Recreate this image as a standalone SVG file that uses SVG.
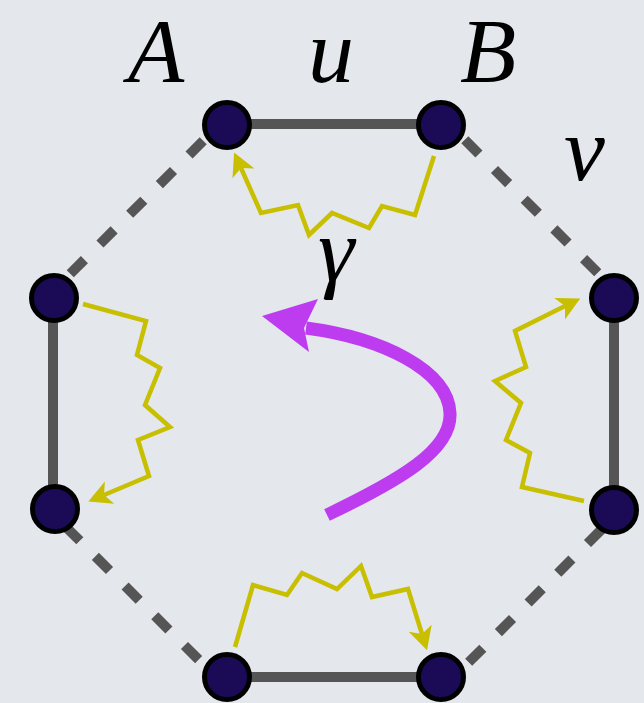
<svg xmlns="http://www.w3.org/2000/svg" width="644" height="703" viewBox="0 0 644 703">
<style>
.solid{stroke:#555555;stroke-width:10;fill:none}
.dash{stroke:#555555;stroke-width:10;fill:none;stroke-dasharray:20 22}
.node{fill:#1b0b57;stroke:#000000;stroke-width:5}
.wig{stroke:#c8bf00;stroke-width:4.5;fill:none;stroke-linejoin:miter;marker-end:url(#ya)}
.lbl{font-family:"Liberation Serif","Times New Roman",serif;font-style:italic;font-size:92px;fill:#000000}
</style>
<defs>
<marker id="ya" markerUnits="userSpaceOnUse" viewBox="-2 -14 28 28" markerWidth="28" markerHeight="28" refX="6" refY="0" orient="auto" overflow="visible">
<path d="M0,-12 L23,0 L0,12 L6,0 Z" fill="#c8bf00"/>
</marker>
</defs>
<rect x="0" y="0" width="644" height="703" fill="#e4e7ec"/>
<g id="connectors">
<line class="solid" x1="227" y1="124" x2="441" y2="124"/>
<line class="solid" x1="53" y1="298" x2="53" y2="509"/>
<line class="solid" x1="614" y1="298" x2="614" y2="510"/>
<line class="solid" x1="227" y1="677" x2="441" y2="677"/>
<line class="dash" x1="223" y1="121" x2="50" y2="294" stroke-dashoffset="14"/>
<line class="dash" x1="445" y1="120" x2="618" y2="293" stroke-dashoffset="14"/>
<line class="dash" x1="48" y1="509" x2="218" y2="679" stroke-dashoffset="17"/>
<line class="dash" x1="620" y1="511" x2="450" y2="681" stroke-dashoffset="16"/>
<path class="wig" d="M434,156 L415,215 L382,206 L369,228 L332,213 L309,235 L298,205 L261,213 L241,168"/>
<path class="wig" d="M83,304 L146,321 L137,355 L160,368 L145,405 L170,427 L138,440 L149,476 L104,495"/>
<path class="wig" d="M584,501 L522,487 L530,453 L506,440 L521,403 L495,381 L526,367 L515,331 L565,306"/>
<path class="wig" d="M235,647 L253,585 L287,595 L302,573 L337,589 L361,566 L372,597 L408,589 L422,634"/>
<path d="M327,515 C400,480 452,450 450,413 C448,370 382,338 306,328" stroke="#be3cf0" stroke-width="13" fill="none"/>
<path d="M262,316 L318,299 L304,328 L309,352 Z" fill="#be3cf0"/>
</g>
<g id="n1"><circle class="node" cx="227" cy="125" r="22.5"/></g>
<g id="n2"><circle class="node" cx="441" cy="125" r="22.5"/></g>
<g id="n3"><circle class="node" cx="54" cy="298" r="22.5"/></g>
<g id="n4"><circle class="node" cx="614" cy="298" r="22.5"/></g>
<g id="n5"><circle class="node" cx="55" cy="509" r="22.5"/></g>
<g id="n6"><circle class="node" cx="614" cy="510" r="22.5"/></g>
<g id="n7"><circle class="node" cx="227" cy="677" r="22.5"/></g>
<g id="n8"><circle class="node" cx="441" cy="677" r="22.5"/></g>
<g id="labels">
<text class="lbl" x="128" y="82">A</text>
<text class="lbl" x="308" y="82">u</text>
<text class="lbl" x="460" y="82">B</text>
<text class="lbl" x="564" y="180">v</text>
<text class="lbl" x="318" y="281">γ</text>
</g>
</svg>
